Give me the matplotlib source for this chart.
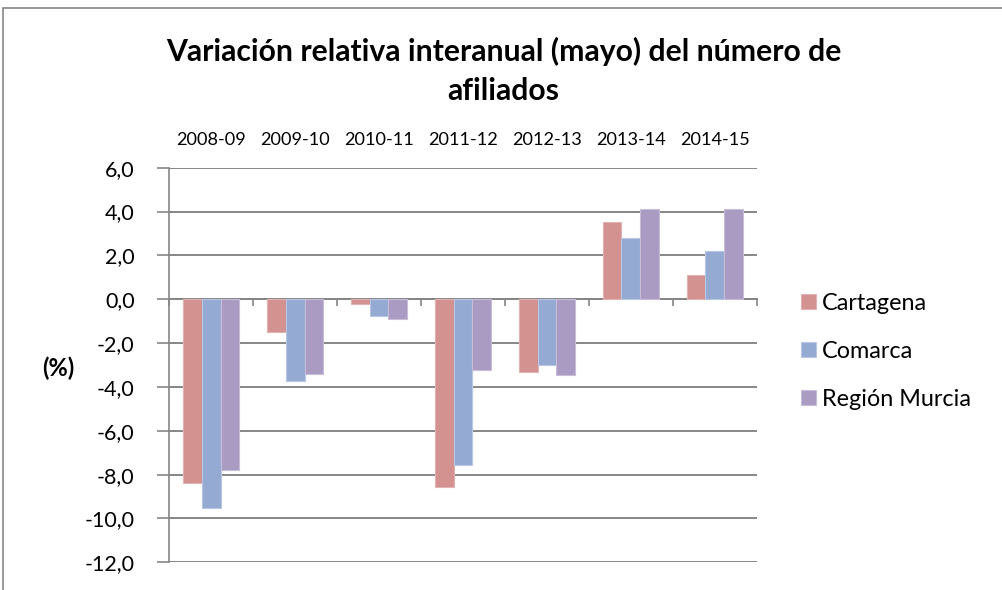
import matplotlib.pyplot as plt
import numpy as np
from matplotlib.patches import Rectangle
from matplotlib.transforms import blended_transform_factory

# Data (%)
periods = ["2008-09", "2009-10", "2010-11", "2011-12", "2012-13", "2013-14", "2014-15"]
cartagena = [-8.4, -1.5, -0.2, -8.55, -3.3, 3.5, 1.1]
comarca = [-9.5, -3.75, -0.75, -7.55, -3.0, 2.8, 2.2]
region_murcia = [-7.8, -3.4, -0.9, -3.25, -3.45, 4.1, 4.1]

series = [
    ("Cartagena", cartagena, "#D39190", "#E2B3B2"),
    ("Comarca", comarca, "#94AAD3", "#B7C7E4"),
    ("Región Murcia", region_murcia, "#A99BC1", "#C7BDD8"),
]

plt.rcParams["font.family"] = ["Lato", "DejaVu Sans"]

fig = plt.figure(figsize=(10.03, 5.90), dpi=100)
ax = fig.add_axes([0.1688, 0.0469, 0.5856, 0.6689])

# chart border (Excel chart area)
fig.patches.append(Rectangle((0.003, -0.1), 1.2, 1.086, transform=fig.transFigure,
                             fill=False, edgecolor="#868686", linewidth=1.2))

x = np.arange(len(periods))
width = 0.223
for i, (name, vals, color, edge) in enumerate(series):
    ax.bar(x + (i - 1) * width, vals, width, color=color, edgecolor=edge,
           linewidth=0.8, label=name, zorder=3)

ax.set_xlim(-0.5, len(periods) - 0.5)
ax.set_ylim(-12, 6)
ax.set_yticks(np.arange(-12, 7, 2))
ax.set_yticklabels([f"{v:.1f}".replace(".", ",") for v in np.arange(-12, 7, 2)],
                   fontsize=15.5)
ax.yaxis.grid(True, color="#868686", linewidth=1.4, zorder=0)
ax.set_axisbelow(True)

# x axis sits at zero, ticks at category boundaries, labels on top
ax.spines["bottom"].set_position(("data", 0))
ax.spines["bottom"].set_color("#868686")
ax.spines["bottom"].set_linewidth(1.4)
ax.spines["left"].set_color("#868686")
ax.spines["left"].set_linewidth(1.2)
ax.spines["top"].set_visible(False)
ax.spines["right"].set_visible(False)
ax.set_xticks(np.arange(-0.5, len(periods), 1.0))
ax.set_xticklabels([])
ax.tick_params(axis="x", direction="out", length=5, color="#868686", width=1.2)
ax.tick_params(axis="y", direction="out", length=9, color="#868686", width=1.2,
               pad=16, labelcolor="black")

trans = blended_transform_factory(ax.transData, ax.transAxes)
for xi, lab in zip(x, periods):
    ax.text(xi, 1.07, lab, transform=trans, ha="center", va="center", fontsize=13.1)

fig.text(0.058, 0.376, "(%)", fontsize=17, fontweight="bold", ha="center", va="center")

fig.text(0.502, 0.88, "Variación relativa interanual (mayo) del número de\nafiliados",
         fontsize=21.7, fontweight="bold", ha="center", va="center", linespacing=1.45)

ax.legend(loc="center left", bbox_to_anchor=(1.04, 0.535), frameon=False, fontsize=16.8,
          handlelength=0.65, handleheight=0.65, handletextpad=0.25, labelspacing=1.15)

fig.savefig("out.png", dpi=100)
